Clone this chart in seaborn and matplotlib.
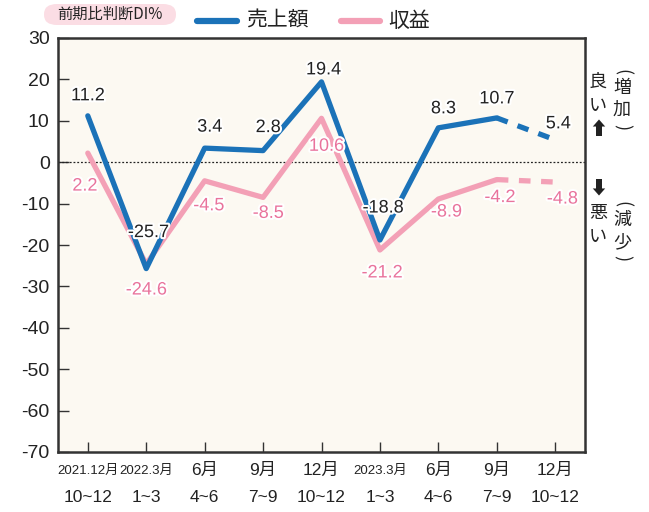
import matplotlib
matplotlib.use("Agg")
import matplotlib.pyplot as plt
import matplotlib.patheffects as pe
from matplotlib.patches import FancyBboxPatch
import seaborn as sns
import pandas as pd

sns.set_theme(style="white")
plt.rcParams['font.family'] = ['Noto Sans CJK JP', 'DejaVu Sans']

top_labels = ["2021.12月", "2022.3月", "6月", "9月", "12月", "2023.3月", "6月", "9月", "12月"]
bottom_labels = ["10~12", "1~3", "4~6", "7~9", "10~12", "1~3", "4~6", "7~9", "10~12"]
sales = [11.2, -25.7, 3.4, 2.8, 19.4, -18.8, 8.3, 10.7, 5.4]
profit = [2.2, -24.6, -4.5, -8.5, 10.6, -21.2, -8.9, -4.2, -4.8]
sales_label = "売上額"
profit_label = "収益"
yticks = [30, 20, 10, 0, -10, -20, -30, -40, -50, -60, -70]

blue = "#1b72b8"
pink = "#f3a0b6"
pink_text = "#e9739c"

n = len(sales)
x = list(range(n))
df_s = pd.DataFrame({"x": x, "v": sales})
df_p = pd.DataFrame({"x": x, "v": profit})

fig = plt.figure(figsize=(6.49, 5.12), dpi=100)
ax = fig.add_axes([58/649, (512-452)/512, (585-58)/649, (452-38)/512])
ax.set_facecolor("#fcf9f2")

lw = 3.8
sns.lineplot(data=df_p.iloc[:n-1], x="x", y="v", color=pink, lw=lw, ax=ax, zorder=3)
sns.lineplot(data=df_p.iloc[n-2:], x="x", y="v", color=pink, lw=lw, ax=ax, zorder=3)
ax.lines[-1].set_dashes([2.2, 2.0])
sns.lineplot(data=df_s.iloc[:n-1], x="x", y="v", color=blue, lw=lw, ax=ax, zorder=4)
sns.lineplot(data=df_s.iloc[n-2:], x="x", y="v", color=blue, lw=lw, ax=ax, zorder=4)
ax.lines[-1].set_dashes([2.2, 2.0])

ax.axhline(0, color="#222222", lw=0.9, ls=(0, (1.5, 1.5)), zorder=2)

ax.set_xlim(-0.51, n - 1 + 0.51)
ax.set_ylim(-70, 30)
ax.set_yticks(yticks)
ax.set_yticklabels([str(t) for t in yticks], family=['Liberation Sans'], fontsize=14, color="#222222")
ax.set_xticks(x)
ax.set_xticklabels([])
ax.tick_params(axis="y", direction="in", length=8, width=1, color="#333333", left=True, pad=6)
ax.tick_params(axis="x", direction="in", length=7, width=1, color="#333333", bottom=True)
ax.set_xlabel("")
ax.set_ylabel("")
for sp in ax.spines.values():
    sp.set_color("#333333")
    sp.set_linewidth(1.8)

# x labels (two lines)
for i in range(n):
    fs1 = 9.5 if "." in top_labels[i] else 12.5
    ax.annotate(top_labels[i], (i, 0), xycoords=("data", "axes fraction"),
                xytext=(0, -8 - (1.5 if "." in top_labels[i] else 0)), textcoords="offset points",
                ha="center", va="top", fontsize=fs1, color="#222222",
                family=['Liberation Sans', 'Noto Sans CJK JP'])
    ax.annotate(bottom_labels[i], (i, 0), xycoords=("data", "axes fraction"),
                xytext=(0, -27), textcoords="offset points", ha="center", va="top",
                fontsize=12.5, color="#222222", family=['Liberation Sans', 'Noto Sans CJK JP'])

stroke = [pe.withStroke(linewidth=3, foreground="white")]
# data labels: offsets in pixels (dx, dy) from point
s_off = [(0, 20), (2, 36), (5, 21), (5, 23), (2, 12), (3, 32), (5, 19), (0, 19), (3, 16)]
p_off = [(-3, -33), (0, -26), (4, -25), (5, -16), (5, -28), (2, -23), (8, -13), (3, -18), (7, -17)]
for i in range(n):
    ax.annotate(f"{sales[i]:.1f}", (i, sales[i]), xytext=(s_off[i][0]*0.72, s_off[i][1]*0.72),
                textcoords="offset points", ha="center", va="center", fontsize=13,
                color="#222222", family=['Liberation Sans'], path_effects=stroke, zorder=6)
    ax.annotate(f"{profit[i]:.1f}", (i, profit[i]), xytext=(p_off[i][0]*0.72, p_off[i][1]*0.72),
                textcoords="offset points", ha="center", va="center", fontsize=13,
                color=pink_text, family=['Liberation Sans'], path_effects=stroke, zorder=6)

# legend
fig.lines.append(plt.Line2D([197/649, 237/649], [1-21/512, 1-21/512], transform=fig.transFigure,
                            color=blue, lw=4.5, solid_capstyle="round"))
fig.text(246/649, 1-21/512, sales_label, fontsize=15, va="center", ha="left", color="#222222")
fig.lines.append(plt.Line2D([341/649, 380/649], [1-21/512, 1-21/512], transform=fig.transFigure,
                            color=pink, lw=4.5, solid_capstyle="round"))
fig.text(388/649, 1-21/512, profit_label, fontsize=15, va="center", ha="left", color="#222222")

# badge
badge = FancyBboxPatch((44/649, 1-25/512), (176-44)/649, 21/512,
                       boxstyle="round,pad=0,rounding_size=0.02", transform=fig.transFigure,
                       facecolor="#fbdde4", edgecolor="none")
fig.patches.append(badge)
fig.text(110/649, 1-14/512, "前期比判断DI%", fontsize=11, ha="center", va="center", color="#222222")

# right side vertical text
def vt(chars, xpix, ys, fs=13):
    for c, yp in zip(chars, ys):
        r = -90 if c in "()" else 0
        fig.text(xpix/649, 1-yp/512, c, fontsize=fs, ha="center", va="center", color="#222222",
                 family=['Noto Sans CJK JP', 'DejaVu Sans'], rotation=r, rotation_mode="anchor")

vt(["良", "い", "⬆"], 598, [82, 106, 130])
vt(["(", "増", "加", ")"], 622, [72, 88, 110, 127])
vt(["⬇", "悪", "い"], 598, [188, 213, 237])
vt(["(", "減", "少", ")"], 622, [204, 220, 242, 258])

fig.savefig("out.png", dpi=100, facecolor="white")
